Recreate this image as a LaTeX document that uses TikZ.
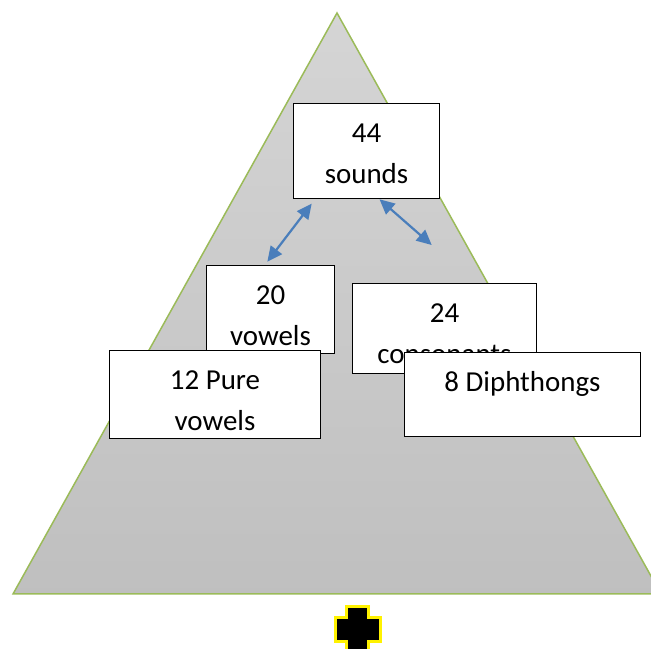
\documentclass[tikz,border=0pt]{standalone}
\usepackage{fontspec}
\setmainfont{Carlito}
\usetikzlibrary{arrows.meta}

\newlength\px
\setlength\px{0.75pt}
\definecolor{edgegreen}{HTML}{9BBB59}
\definecolor{linkblue}{HTML}{4A7EBB}

\begin{document}
\begin{tikzpicture}[x=1\px,y=-1\px,
    font=\fontsize{21.7}{30.75}\selectfont,
    box/.style 2 args={draw=black,line width=1\px,fill=white,anchor=north west,
      inner sep=0pt,minimum width=#1\px,minimum height=#2\px},
    boxline/.style={anchor=base,inner sep=0pt,minimum size=0pt},
    boxtext/.style 2 args={path picture={
      \clip (path picture bounding box.north west)
        rectangle ([yshift=8\px]path picture bounding box.south east);
      \node[boxline] at ([yshift=-39\px]path picture bounding box.north) {#1};
      \node[boxline] at ([yshift=-80\px]path picture bounding box.north) {#2};
    }},
    link/.style={{Triangle[length=11.25pt,width=10.5pt]}-{Triangle[length=11.25pt,width=10.5pt]},
      draw=linkblue,line width=1.65pt},
    crossmark/.style={fill=black,draw=yellow,line width=3\px}]

  \clip (0,0) rectangle (651,649);

  % pyramid
  \draw[edgegreen,line width=1.5\px,top color=gray!33,bottom color=gray!50]
    (337,13) -- (13,594) -- (661,594) -- cycle;

  \node[box={146}{95},boxtext={44}{sounds}]           (sounds) at (293,103) {};
  \node[box={128}{88},boxtext={20}{vowels}]           (vowels) at (206,265) {};
  \node[box={211}{88},boxtext={12 Pure}{vowels}]      (pure)   at (109,350) {};
  \node[box={184}{90},boxtext={24}{consonants}]       (cons)   at (352,283) {};
  \node[box={236}{84},boxtext={8 Diphthongs}{}]       (diph)   at (404,352) {};

  \coordinate (consend) at (431.7,245);

  \draw[link] ([xshift=14pt,yshift=-3.5pt]sounds.south west)
           -- ([xshift=46pt,yshift=2.5pt]vowels.north west);
  \draw[link] ([xshift=9.75pt,yshift=-0.2pt]sounds.south) -- (consend);

  % plus sign
  \draw[crossmark] (346.5,606) -- (368,606) -- (368,617) -- (380,617)
    -- (380,641) -- (368,641) -- (368,655) -- (346.5,655) -- (346.5,641)
    -- (335,641) -- (335,617) -- (346.5,617) -- cycle;
\end{tikzpicture}
\end{document}
